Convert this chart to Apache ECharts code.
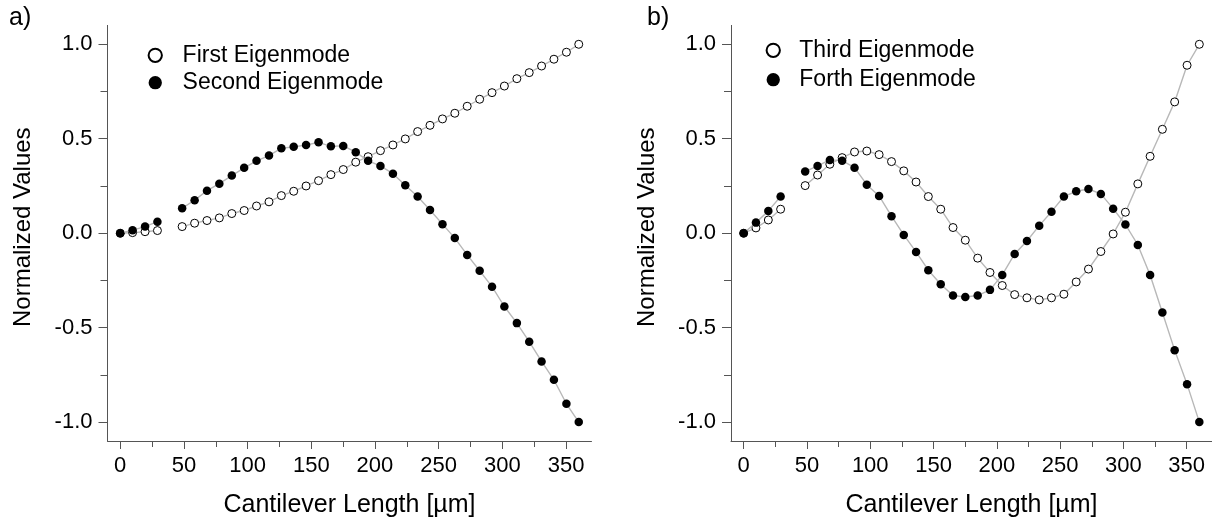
<!DOCTYPE html>
<html>
<head>
<meta charset="utf-8">
<script src="https://cdn.jsdelivr.net/npm/echarts@6/dist/echarts.min.js"></script>
<style>
html,body{margin:0;padding:0;background:#fff;}
#chart{width:1212px;height:525px;}
</style>
</head>
<body>
<div id="chart"></div>
<script>
// Cantilever positions (µm); the point near 39 µm is missing in the figure
const lengthUm = [0, 9.7, 19.5, 29.2, 38.9, 48.6, 58.4, 68.1, 77.8, 87.6, 97.3, 107.0, 116.8, 126.5, 136.2, 145.9, 155.7, 165.4, 175.1, 184.9, 194.6, 204.3, 214.1, 223.8, 233.5, 243.2, 253.0, 262.7, 272.4, 282.2, 291.9, 301.6, 311.4, 321.1, 330.8, 340.5, 350.3, 360.0];

const firstMode  = [0, 0.003, 0.008, 0.014, null, 0.035, 0.053, 0.067, 0.081, 0.104, 0.12, 0.144, 0.166, 0.199, 0.222, 0.25, 0.278, 0.31, 0.337, 0.376, 0.405, 0.437, 0.467, 0.499, 0.538, 0.571, 0.605, 0.635, 0.672, 0.709, 0.744, 0.779, 0.818, 0.85, 0.885, 0.921, 0.958, 1.0];
const secondMode = [0, 0.016, 0.035, 0.061, null, 0.132, 0.175, 0.225, 0.262, 0.305, 0.346, 0.383, 0.411, 0.45, 0.457, 0.467, 0.481, 0.46, 0.462, 0.429, 0.383, 0.356, 0.315, 0.254, 0.194, 0.123, 0.048, -0.026, -0.115, -0.199, -0.283, -0.388, -0.476, -0.574, -0.679, -0.776, -0.903, -1.0];
const thirdMode  = [0, 0.028, 0.07, 0.127, null, 0.252, 0.308, 0.365, 0.4, 0.43, 0.435, 0.416, 0.379, 0.33, 0.271, 0.194, 0.127, 0.03, -0.037, -0.132, -0.208, -0.277, -0.325, -0.342, -0.353, -0.342, -0.323, -0.258, -0.19, -0.097, -0.004, 0.111, 0.261, 0.407, 0.55, 0.695, 0.889, 1.0];
const forthMode  = [0, 0.056, 0.118, 0.194, null, 0.326, 0.356, 0.388, 0.384, 0.347, 0.257, 0.197, 0.09, -0.009, -0.099, -0.196, -0.27, -0.33, -0.338, -0.33, -0.3, -0.221, -0.11, -0.041, 0.04, 0.114, 0.194, 0.222, 0.234, 0.208, 0.13, 0.046, -0.062, -0.221, -0.42, -0.619, -0.799, -1.0];

const xMajorTicks = [0, 50, 100, 150, 200, 250, 300, 350];
const xMinorTicks = [0, 25, 50, 75, 100, 125, 150, 175, 200, 225, 250, 275, 300, 325, 350];
const yMajorTicks = [-1, -0.5, 0, 0.5, 1];
const yMinorTicks = [-1, -0.75, -0.5, -0.25, 0, 0.25, 0.5, 0.75, 1];

const seriesNames = ['First Eigenmode', 'Second Eigenmode', 'Third Eigenmode', 'Forth Eigenmode'];
const xName = 'Cantilever Length [µm]';
const yName = 'Normalized Values';

const FONT = '"Liberation Sans", Arial, sans-serif';
const AXIS_COLOR = '#555';

function pairs(vals) { return lengthUm.map((x, i) => [x, vals[i]]); }

function mainX(gi) {
  return {
    type: 'value', gridIndex: gi, position: 'bottom', min: -10, max: 370,
    name: xName, nameLocation: 'middle', nameGap: 52,
    nameTextStyle: { fontFamily: FONT, fontSize: 25, color: '#000' },
    axisLine: { show: true, onZero: false, lineStyle: { color: AXIS_COLOR, width: 1 } },
    axisTick: { show: true, customValues: xMajorTicks, length: 8, inside: false, lineStyle: { color: AXIS_COLOR } },
    axisLabel: { customValues: xMajorTicks, margin: 14, fontFamily: FONT, fontSize: 22, color: '#000' },
    splitLine: { show: false }
  };
}
function minorX(gi) {
  return {
    type: 'value', gridIndex: gi, position: 'bottom', min: -10, max: 370,
    axisLine: { show: false, onZero: false },
    axisTick: { show: true, customValues: xMinorTicks, length: 6, lineStyle: { color: AXIS_COLOR } },
    axisLabel: { show: false }, splitLine: { show: false }
  };
}
function mainY(gi) {
  return {
    type: 'value', gridIndex: gi, position: 'left', min: -1.1, max: 1.1,
    name: yName, nameLocation: 'middle', nameGap: 72, nameRotate: 90,
    nameTextStyle: { fontFamily: FONT, fontSize: 24, color: '#000', padding: [0, 0, 0, 12] },
    axisLine: { show: true, onZero: false, lineStyle: { color: AXIS_COLOR, width: 1 } },
    axisTick: { show: true, customValues: yMajorTicks, length: 9, lineStyle: { color: AXIS_COLOR } },
    axisLabel: { customValues: yMajorTicks, margin: 15, fontFamily: FONT, fontSize: 22, color: '#000',
      formatter: v => v.toFixed(1) },
    splitLine: { show: false }
  };
}
function minorY(gi) {
  return {
    type: 'value', gridIndex: gi, position: 'left', min: -1.1, max: 1.1,
    axisLine: { show: false, onZero: false },
    axisTick: { show: true, customValues: yMinorTicks, length: 7, lineStyle: { color: AXIS_COLOR } },
    axisLabel: { show: false }, splitLine: { show: false }
  };
}

function ser(name, vals, gi, filled) {
  return {
    name: name, type: 'line', xAxisIndex: gi * 2, yAxisIndex: gi * 2,
    data: pairs(vals), connectNulls: false,
    symbol: 'circle', symbolSize: filled ? 8.5 : 8,
    lineStyle: { color: '#b8b8b8', width: 1.4 },
    itemStyle: filled ? { color: '#000', borderColor: '#000', borderWidth: 0 }
                      : { color: '#fff', borderColor: '#000', borderWidth: 1 },
    emphasis: { disabled: true },
    z: filled ? 3 : 2
  };
}

const chart = echarts.init(document.getElementById('chart'), null, { renderer: 'canvas' });
chart.setOption({
  animation: false,
  backgroundColor: '#fff',
  grid: [
    { left: 107.5, top: 25.4, width: 484, height: 415.6 },
    { left: 731, top: 25.4, width: 484, height: 415.6 }
  ],
  xAxis: [mainX(0), minorX(0), mainX(1), minorX(1)],
  yAxis: [mainY(0), minorY(0), mainY(1), minorY(1)],
  legend: [
    { data: [seriesNames[0], seriesNames[1]], orient: 'vertical', left: 142.6, top: 38.3,
      icon: 'circle', itemWidth: 13.3, itemHeight: 13.3, itemGap: 3.4,
      textStyle: { fontFamily: FONT, fontSize: 23, color: '#000', lineHeight: 24, padding: [0, 0, 0, 15.7] } },
    { data: [seriesNames[2], seriesNames[3]], orient: 'vertical', left: 760.6, top: 33.3,
      icon: 'circle', itemWidth: 13.3, itemHeight: 13.3, itemGap: 5.4,
      textStyle: { fontFamily: FONT, fontSize: 23, color: '#000', lineHeight: 24, padding: [0, 0, 0, 14.4] } }
  ],
  graphic: [
    { type: 'text', left: 9, top: 6, style: { text: 'a)', fontFamily: FONT, fontSize: 25, fill: '#000' } },
    { type: 'text', left: 647, top: 6, style: { text: 'b)', fontFamily: FONT, fontSize: 25, fill: '#000' } }
  ],
  series: [
    ser(seriesNames[0], firstMode, 0, false),
    ser(seriesNames[1], secondMode, 0, true),
    ser(seriesNames[2], thirdMode, 1, false),
    ser(seriesNames[3], forthMode, 1, true)
  ]
});
</script>
</body>
</html>
